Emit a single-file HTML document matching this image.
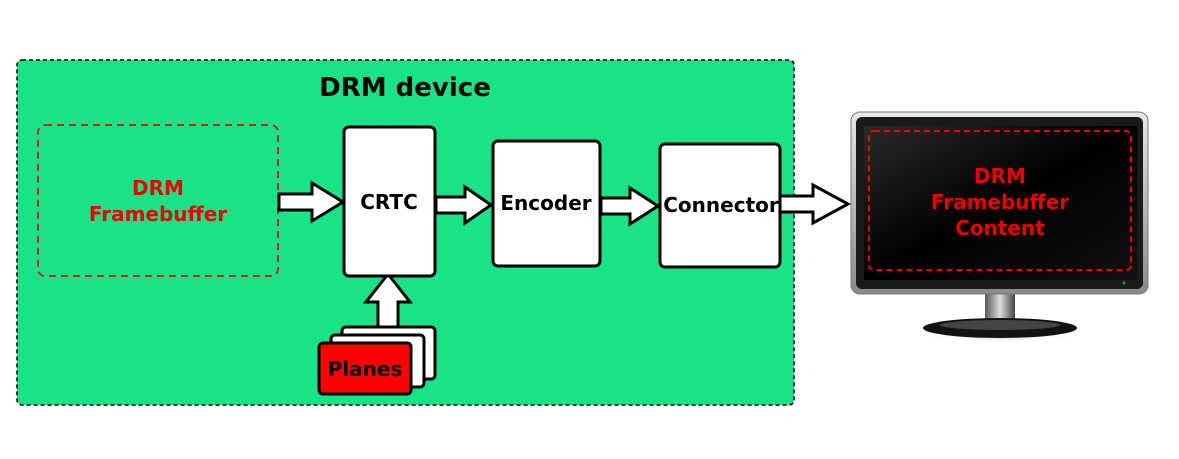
<!DOCTYPE html>
<html><head><meta charset="utf-8"><style>body{margin:0;background:#fff}svg{display:block}</style></head><body>
<svg width="1179" height="459" viewBox="0 0 1179 459" xmlns="http://www.w3.org/2000/svg" font-family="'DejaVu Sans', 'Liberation Sans', sans-serif" font-weight="bold">
<defs>
<linearGradient id="bez" x1="0" y1="0" x2="0" y2="1"><stop offset="0" stop-color="#e8e8e8"/><stop offset="1" stop-color="#8a8a8a"/></linearGradient>
<linearGradient id="scr" x1="0" y1="0" x2="1" y2="1"><stop offset="0" stop-color="#2a2a2a"/><stop offset="0.5" stop-color="#000"/><stop offset="1" stop-color="#111"/></linearGradient>
<linearGradient id="neck" x1="0" y1="0" x2="1" y2="0"><stop offset="0" stop-color="#555"/><stop offset="0.5" stop-color="#ddd"/><stop offset="1" stop-color="#444"/></linearGradient>
<radialGradient id="sh" cx="0.5" cy="0.5" r="0.5"><stop offset="0" stop-color="#999"/><stop offset="1" stop-color="#fff" stop-opacity="0"/></radialGradient>
</defs>
<rect x="17" y="60" width="777" height="345" rx="5" fill="#19e387" stroke="#000" stroke-width="1.5" stroke-dasharray="4,3"/>
<text x="405" y="96" font-size="26" text-anchor="middle" fill="#000">DRM device</text>
<rect x="38" y="125" width="240" height="151" rx="7" fill="none" stroke="#d42020" stroke-width="2" stroke-dasharray="7,5"/>
<text x="158" y="195" font-size="20" text-anchor="middle" fill="#e00">DRM</text>
<text x="158" y="221" font-size="20" text-anchor="middle" fill="#e00">Framebuffer</text>
<g fill="#fff" stroke="#000" stroke-width="3" stroke-linejoin="miter">
<path d="M279 194 H312 V183 L343 202 L312 221 V210 H279 Z"/>
<path d="M436 197 H465 V187 L491 205 L465 223 V213 H436 Z"/>
<path d="M601 198 H630 V188 L658 206 L630 224 V214 H601 Z"/>
<path d="M780 196 H813 V185 L848 204 L813 223 V212 H780 Z"/>
<path d="M378 327 V302 H366 L388 274 L410 302 H398 V327 Z"/>
<rect x="344" y="127" width="91" height="149" rx="5"/>
<rect x="493" y="141" width="107" height="125" rx="5"/>
<rect x="660" y="144" width="120" height="123" rx="5"/>
<rect x="342" y="327" width="93" height="52" rx="4"/>
<rect x="331" y="335" width="93" height="52" rx="4"/>
<rect x="319" y="343" width="92" height="51" rx="4" fill="#f00"/>
</g>
<text x="389" y="209" font-size="20" text-anchor="middle">CRTC</text>
<text x="546" y="210" font-size="20" text-anchor="middle">Encoder</text>
<text x="721" y="212" font-size="20" text-anchor="middle">Connector</text>
<text x="365" y="376" font-size="20" text-anchor="middle">Planes</text>
<ellipse cx="1000" cy="333" rx="80" ry="10" fill="url(#sh)"/>
<rect x="985" y="292" width="30" height="32" fill="url(#neck)"/>
<ellipse cx="1000" cy="328" rx="77" ry="10" fill="#111"/>
<ellipse cx="1000" cy="325" rx="60" ry="5" fill="#444"/>
<rect x="851" y="112" width="297" height="182" rx="9" fill="url(#bez)" stroke="#777"/>
<rect x="856" y="117" width="287" height="172" rx="6" fill="#1a1a1a"/>
<rect x="864" y="126" width="273" height="154" fill="url(#scr)"/>
<rect x="869" y="131" width="262" height="139" rx="5" fill="none" stroke="#e00" stroke-width="2" stroke-dasharray="6,4"/>
<circle cx="1124" cy="283" r="1.5" fill="#1a1"/>
<g font-size="20" text-anchor="middle" fill="#e00">
<text x="1000" y="183">DRM</text>
<text x="1000" y="209">Framebuffer</text>
<text x="1000" y="235">Content</text>
</g>
</svg>
</body></html>
